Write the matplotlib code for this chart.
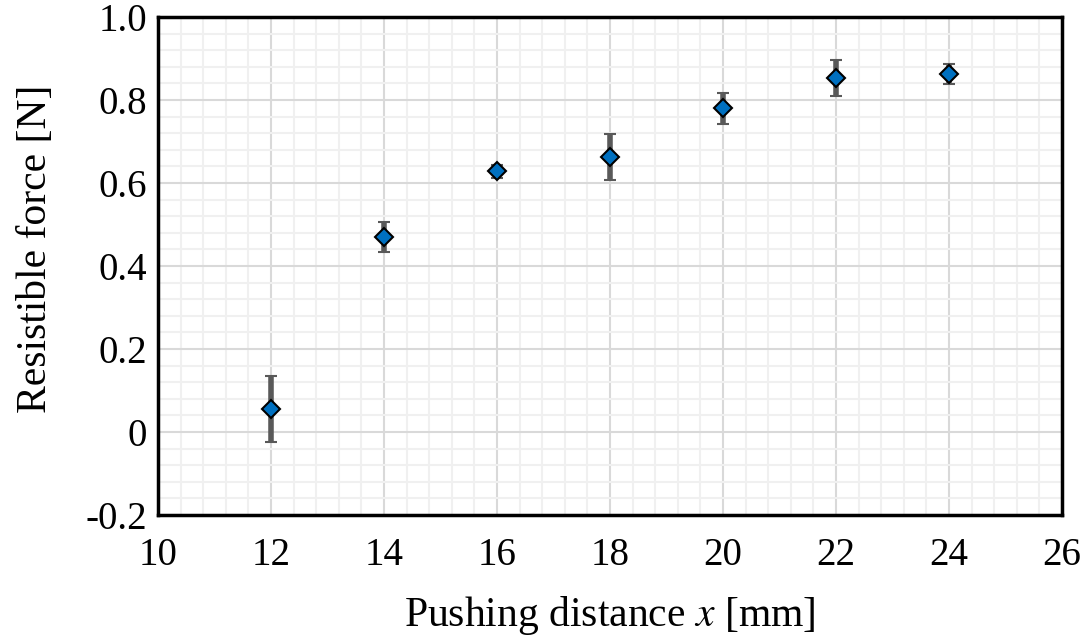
import matplotlib
matplotlib.use("Agg")
import matplotlib.pyplot as plt
from matplotlib.ticker import MultipleLocator

plt.rcParams['font.family'] = ['Liberation Serif', 'DejaVu Serif']
plt.rcParams['mathtext.fontset'] = 'stix'

# data
distance = [12, 14, 16, 18, 20, 22, 24]
force = [0.055, 0.470, 0.628, 0.663, 0.780, 0.853, 0.862]
err = [0.080, 0.036, 0.015, 0.055, 0.037, 0.043, 0.024]

fig = plt.figure(figsize=(10.92, 6.41), dpi=100)
ax = fig.add_axes([0.1447, 0.1966, 0.8278, 0.7769])

ax.errorbar(distance, force, yerr=err, fmt='D', color='#0070C0', mec='black', mew=1.5,
            ms=9, ecolor='#595959', elinewidth=4, capsize=4.3, capthick=4, zorder=3)

ax.set_xlim(10, 26)
ax.set_ylim(-0.2, 1.0)
ax.xaxis.set_major_locator(MultipleLocator(2))
ax.xaxis.set_minor_locator(MultipleLocator(0.4))
ax.yaxis.set_major_locator(MultipleLocator(0.2))
ax.yaxis.set_minor_locator(MultipleLocator(0.04))
ax.set_yticks([-0.2, 0, 0.2, 0.4, 0.6, 0.8, 1.0])
ax.set_yticklabels(['-0.2', '0', '0.2', '0.4', '0.6', '0.8', '1.0'])

ax.grid(which='major', color='#d9d9d9', lw=1.5, zorder=0)
ax.grid(which='minor', color='#f0f0f0', lw=1.5, zorder=0)
ax.set_axisbelow(True)
ax.tick_params(which='both', length=0, labelsize=28)
ax.tick_params(axis='x', pad=16)
ax.tick_params(axis='y', pad=8)
for s in ax.spines.values():
    s.set_linewidth(2.5)

ax.set_xlabel('Pushing distance $x$ [mm]', fontsize=30, labelpad=14)
ax.set_ylabel('Resistible force [N]', fontsize=30)
ax.yaxis.set_label_coords(-0.114, 0.534)

fig.savefig('out.png', dpi=100)
